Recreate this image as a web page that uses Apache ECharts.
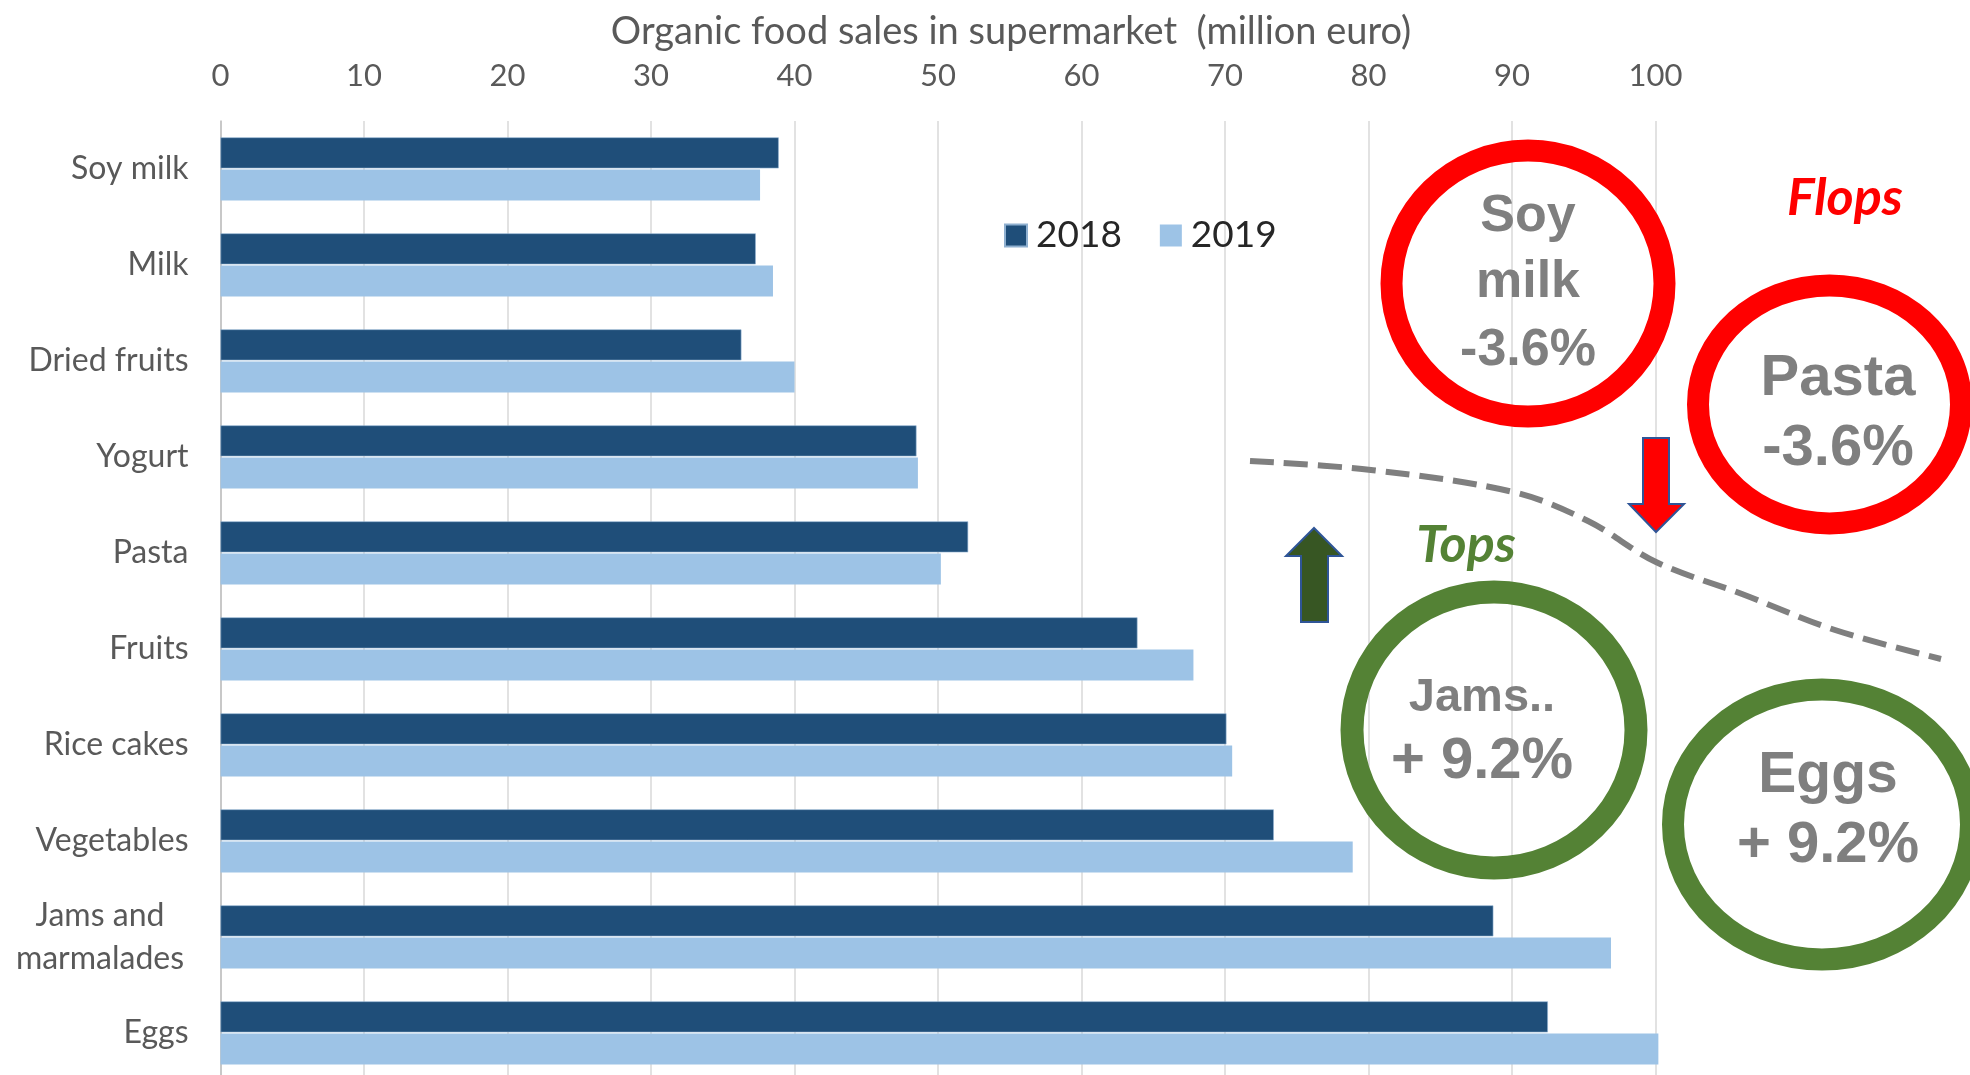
<!DOCTYPE html>
<html>
<head>
<meta charset="utf-8">
<script src="https://cdn.jsdelivr.net/npm/echarts@6/dist/echarts.min.js"></script>
<style>
html,body{margin:0;padding:0;background:#fff;overflow:hidden;}
#chart{width:1970px;height:1075px;}
</style>
</head>
<body>
<div id="chart"></div>
<script>
// ---- data ----
const categories = ['Soy milk', 'Milk', 'Dried fruits', 'Yogurt', 'Pasta', 'Fruits', 'Rice cakes', 'Vegetables', 'Jams and\nmarmalades', 'Eggs'];
const sales2018 = [38.9, 37.3, 36.3, 48.5, 52.1, 63.9, 70.1, 73.4, 88.7, 92.5];
const sales2019 = [37.6, 38.5, 40.0, 48.6, 50.2, 67.8, 70.5, 78.9, 96.9, 100.2];
const seriesNames = ['2018', '2019'];
const axisTitle = 'Organic food sales in supermarket  (million euro)';

const FONT = 'Lato, "Open Sans", sans-serif';
const TXT = '#595959';

const chart = echarts.init(document.getElementById('chart'), null, {renderer: 'canvas', width: 1970, height: 1075});

function annText(x, y, text, size, color, italic) {
  return {
    type: 'text', x: x, y: y, z: 20,
    style: {
      text: text, fill: color || '#7f7f7f',
      font: (italic ? 'italic ' : '') + 'bold ' + size + 'px ' + (italic ? 'Lato, "Liberation Sans", sans-serif' : '"Liberation Sans", Arial, sans-serif'),
      textAlign: 'center', textVerticalAlign: 'middle'
    }
  };
}
function ring(cx, cy, rx, ry, lw, color) {
  return {type: 'ellipse', z: 15, shape: {cx: cx, cy: cy, rx: rx, ry: ry}, style: {fill: 'none', stroke: color, lineWidth: lw}};
}

const option = {
  backgroundColor: '#ffffff',
  animation: false,
  title: {
    text: axisTitle, left: 1006, top: 8, textAlign: 'center',
    textStyle: {fontFamily: FONT, fontSize: 38, fontWeight: 'normal', color: TXT}
  },
  legend: {
    data: seriesNames, left: 999, top: 212, icon: 'rect',
    itemWidth: 22, itemHeight: 22, itemGap: 38,
    textStyle: {fontFamily: FONT, fontSize: 37, color: '#262626', padding: [0, 0, 0, 4]}
  },
  grid: {left: 220.5, top: 121, width: 1435, height: 960, containLabel: false, outerBoundsMode: 'none'},
  xAxis: {
    type: 'value', position: 'top', min: 0, max: 100, interval: 10,
    axisLine: {show: false}, axisTick: {show: false},
    axisLabel: {fontFamily: FONT, fontSize: 31, color: TXT, margin: 45, verticalAlign: 'middle'},
    splitLine: {show: true, lineStyle: {color: '#d9d9d9', width: 1.5}}
  },
  yAxis: {
    type: 'category', data: categories, inverse: true,
    axisLine: {show: true, lineStyle: {color: '#bfbfbf', width: 1.5}},
    axisTick: {show: false},
    axisLabel: {
      fontFamily: FONT, fontSize: 32, color: TXT, margin: 32, lineHeight: 43,
      formatter: function (v) {
        return v.indexOf('\n') >= 0 ? v.split('\n').map(s => '{c|' + s + '}').join('\n') : v;
      },
      rich: {c: {width: 177, align: 'center', fontFamily: FONT, fontSize: 32, color: TXT, lineHeight: 43}}
    }
  },
  series: [
    {name: seriesNames[0], type: 'bar', data: sales2018, barWidth: 31, barGap: '4%', barCategoryGap: '34%',
     itemStyle: {color: '#1f4e79', borderColor: '#8fb0d0', borderWidth: 0.6}},
    {name: seriesNames[1], type: 'bar', data: sales2019, barWidth: 31, barGap: '4%', barCategoryGap: '34%', clip: false,
     itemStyle: {color: '#9dc3e6'}}
  ],
  graphic: [
    {type: 'polyline', z: 12, shape: {points: [[1250, 461], [1371, 470], [1513, 492], [1588, 521], [1656, 562], [1742, 594], [1835, 630], [1941, 659]], smooth: 0.35},
     style: {stroke: '#7f7f7f', lineWidth: 6, lineDash: [24, 10], fill: 'none'}},
    {type: 'polygon', z: 14, shape: {points: [[1643, 438], [1669, 438], [1669, 504], [1684, 504], [1656, 532], [1629, 504], [1643, 504]]},
     style: {fill: '#ff0000', stroke: '#2f5597', lineWidth: 2}},
    {type: 'polygon', z: 14, shape: {points: [[1301, 622], [1328, 622], [1328, 556], [1342, 556], [1314, 528], [1286, 556], [1301, 556]]},
     style: {fill: '#375623', stroke: '#2f5597', lineWidth: 2}},
    ring(1528, 283.6, 136.5, 133, 22, '#ff0000'),
    ring(1829.5, 404.4, 131.5, 119, 22, '#ff0000'),
    ring(1494, 730, 142, 138, 23, '#548235'),
    ring(1822, 824.5, 149, 135, 22, '#548235'),
    annText(1528, 217, 'Soy', 52),
    annText(1528, 283, 'milk', 52),
    annText(1528, 351, '-3.6%', 52),
    annText(1838, 379, 'Pasta', 58),
    annText(1838, 449, '-3.6%', 58),
    annText(1482, 698, 'Jams..', 47),
    annText(1482, 762, '+ 9.2%', 58),
    annText(1828, 776, 'Eggs', 57),
    annText(1828, 846, '+ 9.2%', 58),
    annText(1845, 198, 'Flops', 52, '#ff0000', true),
    annText(1466, 545, 'Tops', 52, '#548235', true)
  ]
};
chart.setOption(option);
</script>
</body>
</html>
